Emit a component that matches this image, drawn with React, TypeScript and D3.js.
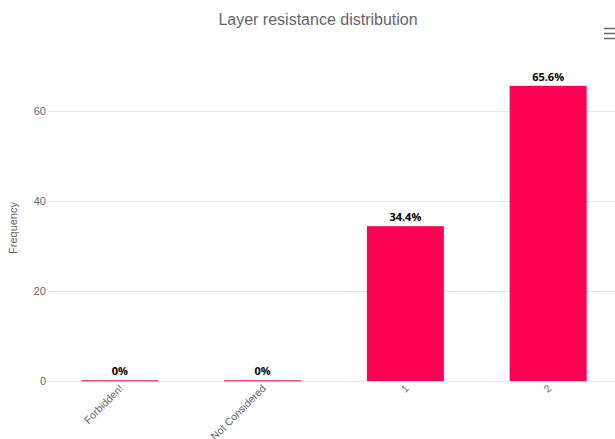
import React from "react";
import * as d3 from "d3";

const categories = ["Forbidden!", "Not Considered", "1", "2"];
const values = [0, 0, 34.4, 65.6];
const yTicks = [0, 20, 40, 60];
const title = "Layer resistance distribution";
const yTitle = "Frequency";

export default function App() {
  const W = 615, H = 439;
  const left = 48.5, right = 619.5, bottom = 381, top = 66;
  const x = d3.scaleBand<string>().domain(categories).range([left, right]).paddingInner(0).paddingOuter(0);
  const y = d3.scaleLinear().domain([0, 70]).range([bottom, top]);
  const bw = 77;
  const font = "'Liberation Sans', Arial, sans-serif";
  return (
    <svg width={W} height={H} style={{ position: "fixed", left: 0, top: 0, background: "#fff" }} fontFamily={font}>
      <text x={318} y={25} textAnchor="middle" fontSize={16} fill="#666">{title}</text>
      <g stroke="#666" strokeWidth={1.5}>
        <line x1={604} x2={616} y1={28.5} y2={28.5} />
        <line x1={604} x2={616} y1={33.5} y2={33.5} />
        <line x1={604} x2={616} y1={38.5} y2={38.5} />
      </g>
      {yTicks.map((t) => (
        <g key={t}>
          <line x1={left} x2={right} y1={Math.round(y(t)) + 0.5} y2={Math.round(y(t)) + 0.5} stroke="#e6e6e6" />
          <text x={46} y={y(t) + 4} textAnchor="end" fontSize={11} fill="#666">{t}</text>
        </g>
      ))}
      <text transform={`translate(17,${228}) rotate(-90)`} textAnchor="middle" fontSize={11} fill="#666">{yTitle}</text>
      {categories.map((c, i) => {
        const cx = (x(c) as number) + x.bandwidth() / 2;
        const v = values[i];
        const yt = v === 0 ? bottom - 1 : y(v);
        const h = v === 0 ? 1.5 : bottom - y(v);
        return (
          <g key={c}>
            <rect x={cx - bw / 2} y={yt} width={bw} height={h} fill={v === 0 ? "#e64a8a" : "#ff0055"} />
            <text x={cx} y={yt - 5} textAnchor="middle" fontSize={11} fontWeight="bold" fill="#000"
              stroke="#fff" strokeWidth={2} paintOrder="stroke" fontFamily="'Open Sans', sans-serif">
              {`${v}%`}
            </text>
            <text transform={`translate(${cx + 4},${bottom + 8}) rotate(-45)`} textAnchor="end" fontSize={10.5} fill="#666">{c}</text>
          </g>
        );
      })}
    </svg>
  );
}
